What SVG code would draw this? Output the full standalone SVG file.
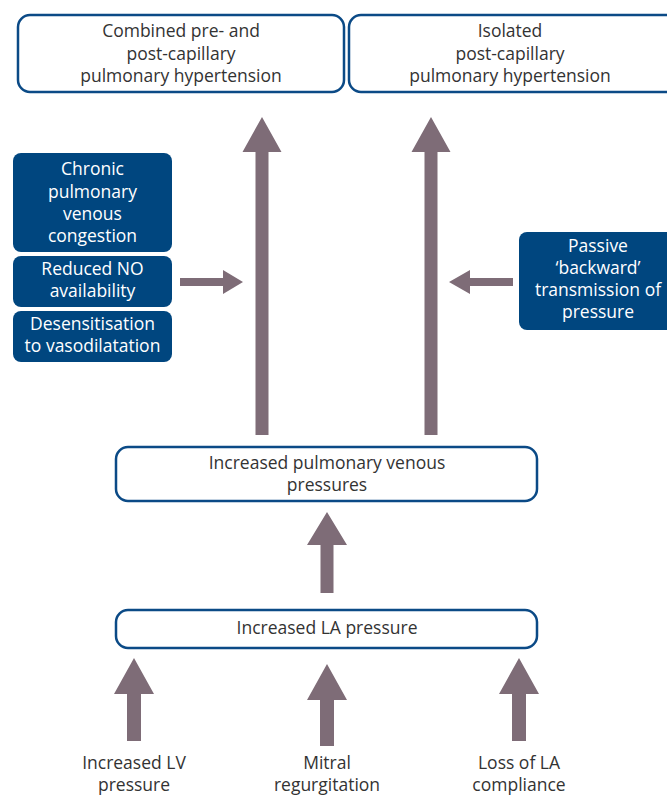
<svg xmlns="http://www.w3.org/2000/svg" width="667" height="796" viewBox="0 0 667 796">
<style>
.box{fill:#ffffff;stroke:#0b4a86;stroke-width:2.5}
.blue{fill:#00467f}
.t{font-family:"Open Sans","Liberation Sans",sans-serif;font-size:17.5px;fill:#333333;text-anchor:middle}
.w{font-family:"Open Sans","Liberation Sans",sans-serif;font-size:17.5px;fill:#ffffff;text-anchor:middle}
.arr{fill:#7e6c77}
</style>
<rect width="667" height="796" fill="#ffffff"/>
<g id="combined">
<rect class="box" x="18" y="15" width="326" height="77" rx="12"/>
<text class="t" x="181" y="37">Combined pre- and</text>
<text class="t" x="181" y="59.5">post-capillary</text>
<text class="t" x="181" y="82">pulmonary hypertension</text>
</g>
<g id="isolated">
<rect class="box" x="349" y="15" width="332" height="77" rx="12"/>
<text class="t" x="510" y="37">Isolated</text>
<text class="t" x="510" y="59.5">post-capillary</text>
<text class="t" x="510" y="82">pulmonary hypertension</text>
</g>
<g id="chronic">
<rect class="blue" x="13" y="153" width="159" height="99" rx="8"/>
<text class="w" x="92.5" y="175">Chronic</text>
<text class="w" x="92.5" y="197.5">pulmonary</text>
<text class="w" x="92.5" y="220">venous</text>
<text class="w" x="92.5" y="242">congestion</text>
</g>
<g id="reduced-no">
<rect class="blue" x="13" y="256" width="159" height="51" rx="8"/>
<text class="w" x="92.5" y="275">Reduced NO</text>
<text class="w" x="92.5" y="297">availability</text>
</g>
<g id="desensitisation">
<rect class="blue" x="13" y="311" width="159" height="51" rx="8"/>
<text class="w" x="92.5" y="330">Desensitisation</text>
<text class="w" x="92.5" y="352">to vasodilatation</text>
</g>
<g id="passive">
<rect class="blue" x="519" y="232" width="162" height="98" rx="8"/>
<text class="w" x="598" y="252">Passive</text>
<text class="w" x="598" y="274">‘backward’</text>
<text class="w" x="598" y="296">transmission of</text>
<text class="w" x="598" y="318">pressure</text>
</g>
<g id="pulm-venous">
<rect class="box" x="116" y="447" width="421" height="54" rx="12"/>
<text class="t" x="327" y="469">Increased pulmonary venous</text>
<text class="t" x="327" y="491">pressures</text>
</g>
<g id="la-pressure">
<rect class="box" x="116" y="610" width="421" height="38" rx="12"/>
<text class="t" x="327" y="634">Increased LA pressure</text>
</g>
<g id="lv-pressure">
<text class="t" x="134" y="769">Increased LV</text>
<text class="t" x="134" y="791">pressure</text>
</g>
<g id="mitral">
<text class="t" x="327" y="769">Mitral</text>
<text class="t" x="327" y="791">regurgitation</text>
</g>
<g id="la-compliance">
<text class="t" x="519" y="769">Loss of LA</text>
<text class="t" x="519" y="791">compliance</text>
</g>
<g id="connectors">
<polygon class="arr" points="262,117 281.5,152 268.5,152 268.5,435 255.5,435 255.5,152 242.5,152"/>
<polygon class="arr" points="431,117 450.5,152 437.5,152 437.5,435 424.5,435 424.5,152 411.5,152"/>
<polygon class="arr" points="327,512 347,545 333.5,545 333.5,593 320.5,593 320.5,545 307,545"/>
<polygon class="arr" points="134,658 154,694 141,694 141,741 127,741 127,694 114,694"/>
<polygon class="arr" points="327,664 347,700 334,700 334,746 320,746 320,700 307,700"/>
<polygon class="arr" points="519,658 539,694 526,694 526,741 512,741 512,694 499,694"/>
<polygon class="arr" points="243,282 223,294 223,286 180,286 180,278 223,278 223,270"/>
<polygon class="arr" points="449,282 470,270 470,278 513,278 513,286 470,286 470,294"/>
</g>
</svg>
